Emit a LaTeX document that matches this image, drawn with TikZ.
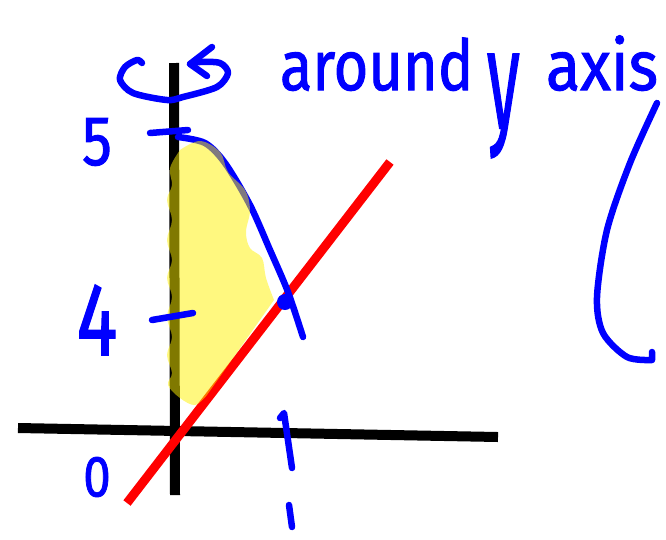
\documentclass[tikz,border=0pt]{standalone}
\usepackage{fontspec}
\setmainfont{Fira Sans}
\newfontfamily\handfont{Fira Sans}[FakeBold=1.5]
\usetikzlibrary{positioning}

\begin{document}
\begin{tikzpicture}[x=1pt,y=-1pt,
pen/.style={draw=blue,line width=6.5pt,line cap=round,line join=round},
chalk/.style={draw=black,line width=10pt},
hand/.style={text=blue,inner sep=0pt,outer sep=0pt}]
\useasboundingbox (0,0) rectangle (666,539);
\draw[chalk] (18,428) -- (498,437);
\draw[chalk] (174,63) -- (175,495);
\draw[draw=red,line width=9pt] (127,503) -- (390,162);
\draw[pen] plot[smooth] coordinates {(178,137) (205,143) (225,163) (250,205) (270,250) (288,292) (303,337)};
\fill[blue] (285,302) circle (8);
\draw[pen] plot[smooth] coordinates {(142,63) (137,60) (125,67) (120,80) (133,93) (167,100) (183,97) (217,87) (228,73) (220,63) (200,62) (190,64)};
\draw[pen] (212,47) -- (190,64) -- (207,76);
\draw[pen] plot[smooth] coordinates {(657,103) (630,163) (607,230) (597,297) (603,333) (627,357) (652,360)} -- (652,352);
\foreach \v/\y/\s/\h in {5/142/70/1,4/320/90/1.15,0/477/58/1} {
\node[hand,font=\fontsize{\s}{\s}\handfont] (tick\v) at (97,\y) {\scalebox{0.85}[\h]{\v}};
}
\node[hand,font=\fontsize{70}{70}\handfont,anchor=base west] (around) at (280,90) {\scalebox{0.85}[1]{around}};
\node[hand,font=\fontsize{70}{70}\handfont,anchor=base west] (yword) at (487,128) {\scalebox{0.95}[2]{y}};
\node[hand,font=\fontsize{70}{70}\handfont,anchor=base west] (axisword) at (546,90) {\scalebox{0.9}[1]{axis}};
\fill[yellow,fill opacity=0.5] plot[smooth,tension=0.6] coordinates {(180,150) (200,141) (220,152) (228,172) (245,190) (250,210) (246,232) (250,248) (262,258) (266,278) (274,300)}
 -- plot[smooth,tension=0.6] coordinates {(207,395) (195,405) (180,398) (168,385) (172,373) (167,355) (172,337) (167,317) (172,297) (167,278) (172,260) (167,240) (172,220) (167,200) (172,185) (170,168) (180,150)} -- cycle;
\draw[pen] (150,133) -- (188,130);
\draw[pen] (152,320) -- (193,313);
\draw[pen] (280,418) -- (284,413) -- (292,468);
\draw[pen] (289,505) -- (292,527);
\end{tikzpicture}
\end{document}
